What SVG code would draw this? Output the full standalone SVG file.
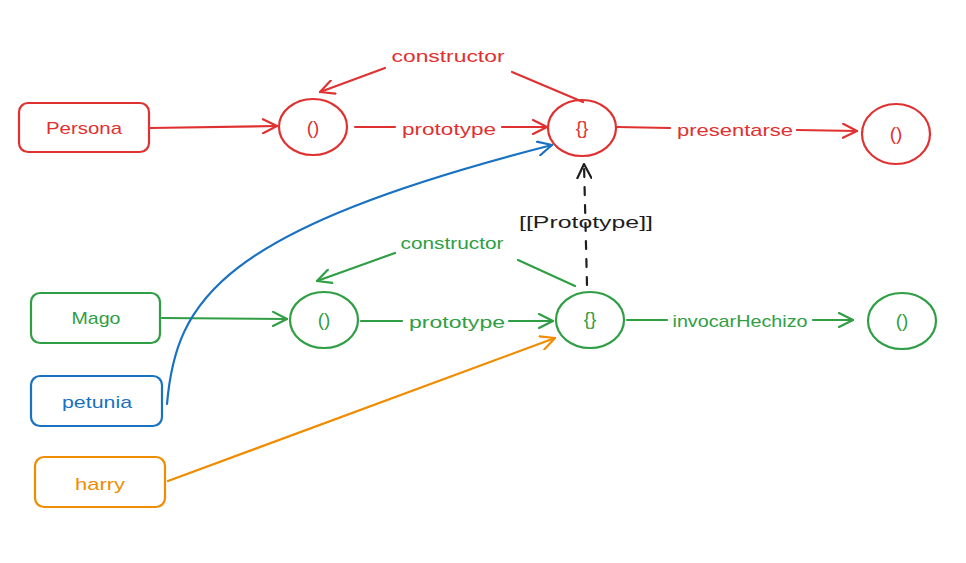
<svg xmlns="http://www.w3.org/2000/svg" width="966" height="563" viewBox="0 0 966 563">
<style>
text{font-family:"Liberation Sans","DejaVu Sans",sans-serif;font-size:17px;text-anchor:middle;dominant-baseline:central}
.sym{font-size:19px}
.r{stroke:#e03131}.g{stroke:#2f9e44}.b{stroke:#1971c2}.o{stroke:#f08c00}.k{stroke:#1e1e1e}
.tr{fill:#e03131}.tg{fill:#2f9e44}.tb{fill:#1971c2}.to{fill:#f08c00}.tk{fill:#1e1e1e}
rect,ellipse,path,line{fill:none;stroke-width:2.2;stroke-linecap:round;stroke-linejoin:round}
</style>
<defs>
<marker id="ar" viewBox="0 0 16 16" refX="15" refY="8" markerWidth="16" markerHeight="16" markerUnits="userSpaceOnUse" orient="auto"><path d="M1,1 L15,8 L1,15" stroke="#e03131" fill="none" stroke-width="2.2"/></marker>
<marker id="ag" viewBox="0 0 16 16" refX="15" refY="8" markerWidth="16" markerHeight="16" markerUnits="userSpaceOnUse" orient="auto"><path d="M1,1 L15,8 L1,15" stroke="#2f9e44" fill="none" stroke-width="2.2"/></marker>
<marker id="ab" viewBox="0 0 16 16" refX="15" refY="8" markerWidth="16" markerHeight="16" markerUnits="userSpaceOnUse" orient="auto"><path d="M1,1 L15,8 L1,15" stroke="#1971c2" fill="none" stroke-width="2.2"/></marker>
<marker id="ao" viewBox="0 0 16 16" refX="15" refY="8" markerWidth="16" markerHeight="16" markerUnits="userSpaceOnUse" orient="auto"><path d="M1,1 L15,8 L1,15" stroke="#f08c00" fill="none" stroke-width="2.2"/></marker>
<marker id="ak" viewBox="0 0 16 16" refX="15" refY="8" markerWidth="16" markerHeight="16" markerUnits="userSpaceOnUse" orient="auto"><path d="M1,1 L15,8 L1,15" stroke="#1e1e1e" fill="none" stroke-width="2.2"/></marker>
</defs>

<g id="connectors">
  <!-- red row -->
  <path class="r" d="M150,128 L277,126" stroke-width="2.6" marker-end="url(#ar)"/>
  <path class="r" d="M355,127 L395,127"/>
  <text class="tr" x="449" y="129" textLength="94" lengthAdjust="spacingAndGlyphs">prototype</text>
  <path class="r" d="M502,127 L547,127" marker-end="url(#ar)"/>
  <path class="r" d="M617,127 L670,128"/>
  <text class="tr" x="735" y="130" textLength="116" lengthAdjust="spacingAndGlyphs">presentarse</text>
  <path class="r" d="M797,130 L857,131" marker-end="url(#ar)"/>
  <path class="r" d="M583,102 L512,72"/>
  <text class="tr" x="448" y="56" textLength="113" lengthAdjust="spacingAndGlyphs">constructor</text>
  <path class="r" d="M385,68 L320,92" stroke-width="2.6" marker-end="url(#ar)"/>
  <!-- prototype link -->
  <path class="k" d="M587,285 L584,164" stroke-dasharray="8,10" marker-end="url(#ak)"/>
  <text class="tk" x="586" y="222" textLength="134" lengthAdjust="spacingAndGlyphs">[[Prototype]]</text>
  <!-- green row -->
  <path class="g" d="M162,318 L287,319" stroke-width="2.6" marker-end="url(#ag)"/>
  <path class="g" d="M361,321 L402,321" stroke-width="2.6"/>
  <text class="tg" x="457" y="322" textLength="96" lengthAdjust="spacingAndGlyphs">prototype</text>
  <path class="g" d="M509,321 L553,321" stroke-width="2.6" marker-end="url(#ag)"/>
  <path class="g" d="M627,320 L667,320" stroke-width="2.6"/>
  <text class="tg" x="740" y="321" textLength="135" lengthAdjust="spacingAndGlyphs">invocarHechizo</text>
  <path class="g" d="M813,320 L853,320" stroke-width="2.6" marker-end="url(#ag)"/>
  <path class="g" d="M575,286 L518,260"/>
  <text class="tg" x="452" y="243" textLength="103" lengthAdjust="spacingAndGlyphs">constructor</text>
  <path class="g" d="M395,253 L317,281" marker-end="url(#ag)"/>
  <!-- petunia -->
  <path class="b" d="M167,404 C176,300 220,230 552,145" stroke-width="2.6" marker-end="url(#ab)"/>
  <!-- harry -->
  <path class="o" d="M168,481 L555,338" stroke-width="2.6" marker-end="url(#ao)"/>
</g>

<g id="persona"><rect class="r" x="19" y="103" width="130" height="49" rx="9"/><text class="tr" x="84" y="128" textLength="76" lengthAdjust="spacingAndGlyphs">Persona</text></g>
<g id="persona-fn"><ellipse class="r" cx="313" cy="127" rx="34" ry="28"/><text class="tr sym" x="313" y="127">()</text></g>
<g id="persona-proto"><ellipse class="r" cx="582" cy="128" rx="34" ry="28"/><text class="tr sym" x="582" y="127">{}</text></g>
<g id="presentarse-fn"><ellipse class="r" cx="896" cy="134" rx="34" ry="30"/><text class="tr sym" x="896" y="133">()</text></g>

<g id="mago"><rect class="g" x="31" y="293" width="129" height="50" rx="9"/><text class="tg" x="96" y="318" textLength="49" lengthAdjust="spacingAndGlyphs">Mago</text></g>
<g id="mago-fn"><ellipse class="g" cx="324" cy="320" rx="34" ry="28"/><text class="tg sym" x="324" y="319">()</text></g>
<g id="mago-proto"><ellipse class="g" cx="590" cy="320" rx="34" ry="28"/><text class="tg sym" x="590" y="318">{}</text></g>
<g id="hechizo-fn"><ellipse class="g" cx="902" cy="321" rx="34" ry="28"/><text class="tg sym" x="902" y="320">()</text></g>

<g id="petunia"><rect class="b" x="31" y="376" width="131" height="50" rx="9"/><text class="tb" x="97" y="402" textLength="70" lengthAdjust="spacingAndGlyphs">petunia</text></g>
<g id="harry"><rect class="o" x="35" y="457" width="130" height="50" rx="9"/><text class="to" x="100" y="484" textLength="50" lengthAdjust="spacingAndGlyphs">harry</text></g>
</svg>
